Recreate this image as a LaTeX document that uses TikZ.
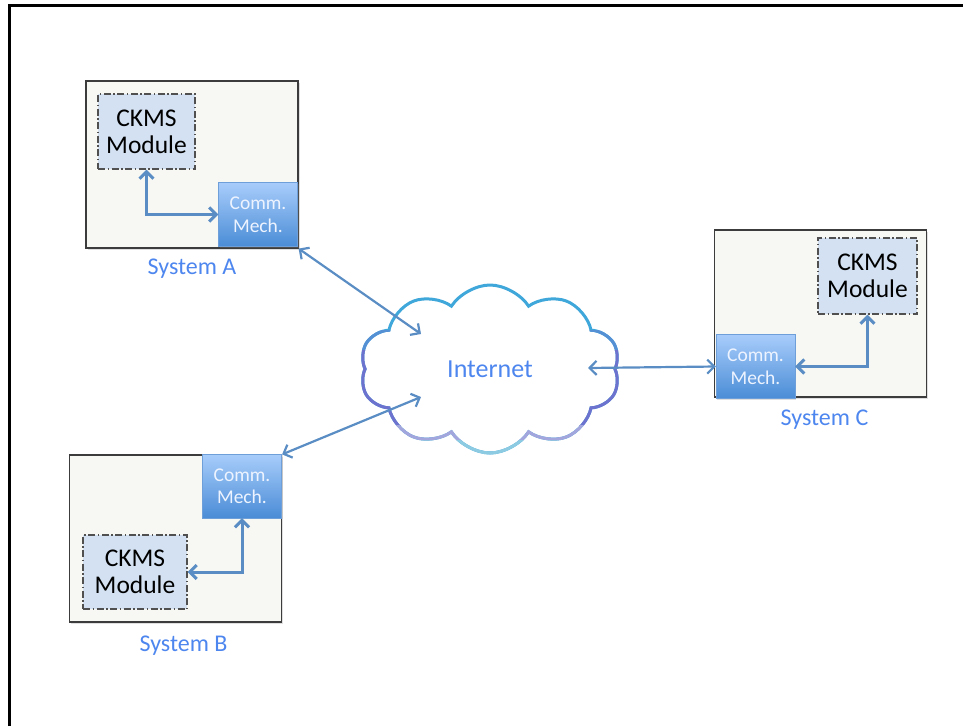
\documentclass[tikz,border=0pt]{standalone}
\usepackage{fontspec}
\setmainfont{Carlito}
\usetikzlibrary{positioning,shapes.symbols,shadows,arrows.meta}
\definecolor{sysfill}{HTML}{F7F7F3}
\definecolor{sysdraw}{HTML}{3C3C3C}
\definecolor{ckmsfill}{HTML}{D3E1F2}
\definecolor{ckmsdraw}{HTML}{505050}
\definecolor{commtop}{HTML}{A8CDFB}
\definecolor{commbot}{HTML}{4A8CD6}
\definecolor{commdraw}{HTML}{6E9FD8}
\definecolor{commtext}{HTML}{EEF4FF}
\definecolor{linkblue}{HTML}{5A8DC3}
\definecolor{labelblue}{HTML}{4D86EE}
\definecolor{cloudA}{HTML}{3FA7DA}
\definecolor{cloudB}{HTML}{5590D5}
\definecolor{cloudC}{HTML}{6C72CD}
\definecolor{cloudD}{HTML}{A2A6DC}
\definecolor{cloudE}{HTML}{8DCBE2}

\begin{document}
\begin{tikzpicture}[x=1pt,y=1pt,
  >={Straight Barb[length=7pt,width=14pt]},
  sysbox/.style={draw=sysdraw,fill=sysfill,line width=1.2pt,minimum width=212pt,minimum height=167pt,
    drop shadow={opacity=0.25,shadow xshift=1.5pt,shadow yshift=-1.5pt}},
  ckms/.style={draw=ckmsdraw,fill=ckmsfill,line width=1.2pt,dash pattern=on 7pt off 2.5pt on 1.5pt off 2.5pt,
    align=center,font=\fontsize{25.5}{27}\selectfont,inner sep=0pt},
  comm/.style={draw=commdraw,top color=commtop,bottom color=commbot,text=commtext,align=center,
    font=\fontsize{19.5}{22.5}\selectfont,minimum width=79pt,minimum height=64pt,inner sep=0pt,
    drop shadow={opacity=0.25,shadow xshift=1pt,shadow yshift=-1pt}},
  syslabel/.style={text=labelblue,font=\fontsize{24}{28}\selectfont,inner sep=0pt},
  link/.style={<->,draw=linkblue,line width=3pt},
  puff/.style={cloud,cloud puffs=10,cloud puff arc=115,aspect=1.55,minimum width=260pt,minimum height=168pt,
    line width=3pt,font=\fontsize{26}{30}\selectfont}]
\useasboundingbox (0,0) rectangle (963,-726);
\draw[line width=3pt] (9,-726) -- (9,-5) -- (963,-5);

\node[sysbox] (sysA) at (192,-164.5) {};
\node[ckms,minimum width=97pt,minimum height=75pt] (ckmsA) at (146.5,-131.5) {CKMS\\Module};
\node[comm] (commA) at (258,-214.5) {Comm.\\Mech.};
\node[syslabel,below=10pt of sysA] (labA) {System A};

\node[sysbox] (sysB) at (175.5,-538.5) {};
\node[comm] (commB) at (242,-486) {Comm.\\Mech.};
\node[ckms,minimum width=104pt,minimum height=74pt] (ckmsB) at (135,-572) {CKMS\\Module};
\node[syslabel,below=13pt of sysB,xshift=8pt] (labB) {System B};

\node[sysbox] (sysC) at (820.5,-313.5) {};
\node[ckms,minimum width=99pt,minimum height=76pt] (ckmsC) at (867.5,-276) {CKMS\\Module};
\node[comm] (commC) at (755.5,-366.5) {Comm.\\Mech.};
\node[syslabel,below=12pt of sysC,xshift=4pt] (labC) {System C};

\node[puff,fill=white,draw=cloudA,text=labelblue] (internet) at (490,-369) {Internet};
\foreach \ya/\yb/\c [count=\i] in {-330/-350/cloudB,-350/-425/cloudC,-425/-440/cloudD,-440/-470/cloudE}{
  \begin{scope}
    \clip (340,\ya) rectangle (640,\yb);
    \node[puff,draw=\c] (band\i) at (internet.center) {\phantom{Internet}};
  \end{scope}}

\draw[link] (ckmsA.south) |- (commA.west);
\draw[link] (commB.south) |- (ckmsB.east);
\draw[link] (commC.east) -| (ckmsC.south);

\coordinate (tipA) at (421,-334);
\coordinate (tipB) at (421,-397);
\coordinate (tipC) at (588,-368);
\draw[link,line width=2.2pt] (sysA.south east) -- (tipA);
\draw[link,line width=2.2pt] (sysB.north east) -- (tipB);
\draw[link,line width=2.2pt] (tipC) -- (commC.west);
\end{tikzpicture}
\end{document}
